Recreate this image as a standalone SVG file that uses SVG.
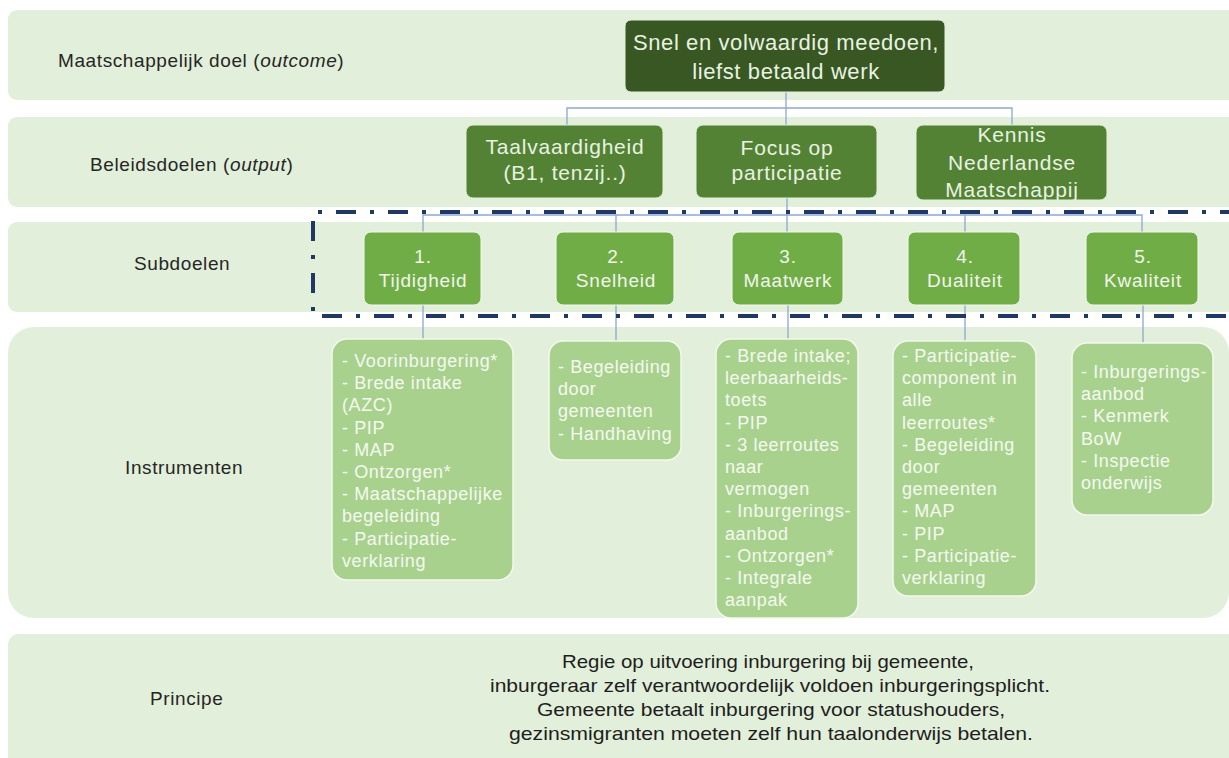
<svg xmlns="http://www.w3.org/2000/svg" width="1229" height="758" viewBox="0 0 1229 758">
<style>
.band{fill:#E2EFDA}
.lbl{font-family:"Liberation Sans",Arial,sans-serif;font-size:19px;letter-spacing:0.6px;fill:#262626}
.top{fill:#385723;stroke:#E2EFDA;stroke-width:1}
.l2{fill:#548235;stroke:#E2EFDA;stroke-width:1}
.sub{fill:#70AD47;stroke:#F2F8EE;stroke-width:1}
.ins{fill:#A9D18E;stroke:#F2F8EE;stroke-width:1.5}
.t1{font-family:"Liberation Sans",Arial,sans-serif;font-size:22px;letter-spacing:0.6px;fill:#E8F2E1;text-anchor:middle}
.t2{font-family:"Liberation Sans",Arial,sans-serif;font-size:21px;letter-spacing:0.8px;fill:#E8F2E1;text-anchor:middle}
.t3{font-family:"Liberation Sans",Arial,sans-serif;font-size:19px;letter-spacing:0.8px;fill:#F0F6EB;text-anchor:middle}
.t4{font-family:"Liberation Sans",Arial,sans-serif;font-size:18px;letter-spacing:0.6px;fill:#F4F9F0}
.pr{font-family:"Liberation Sans",Arial,sans-serif;font-size:19px;fill:#1E1E1E;text-anchor:middle}
.con{fill:none;stroke:#8EA6D6;stroke-width:1.3}
</style>

<g id="bands">
<rect class="band" x="8" y="10" width="1240" height="90" rx="9"/>
<rect class="band" x="8" y="117" width="1240" height="90" rx="9"/>
<rect class="band" x="8" y="222" width="1240" height="90" rx="9"/>
<rect class="band" x="8" y="327" width="1221" height="291" rx="26"/>
<rect class="band" x="8" y="634" width="1240" height="140" rx="11"/>
</g>

<g id="row-labels">
<text class="lbl" x="58" y="67">Maatschappelijk doel (<tspan font-style="italic">outcome</tspan>)</text>
<text class="lbl" x="90" y="171">Beleidsdoelen (<tspan font-style="italic">output</tspan>)</text>
<text class="lbl" x="134" y="270">Subdoelen</text>
<text class="lbl" x="125" y="474">Instrumenten</text>
<text class="lbl" x="150" y="705">Principe</text>
</g>

<g id="connectors">
<path class="con" d="M786,92 V125 M567,125 V108 H1012 V125"/>
<path class="con" d="M787,198 V232 M423,232 V215 H1142 V232 M616,215 V232 M965,215 V232"/>
<path class="con" d="M423,305 V339 M616,305 V341 M788,305 V339 M965,305 V341 M1143,305 V343"/>
</g>

<g id="goal">
<rect class="top" x="625" y="20" width="320" height="72" rx="6"/>
<text class="t1" x="786" y="50">Snel en volwaardig meedoen,</text>
<text class="t1" x="786" y="79">liefst betaald werk</text>
</g>

<g id="taalvaardigheid">
<rect class="l2" x="466" y="125" width="197" height="73" rx="7"/>
<text class="t2" x="565" y="154">Taalvaardigheid</text>
<text class="t2" x="565" y="180">(B1, tenzij..)</text>
</g>
<g id="participatie">
<rect class="l2" x="696" y="125" width="181" height="73" rx="7"/>
<text class="t2" x="787" y="155">Focus op</text>
<text class="t2" x="787" y="180">participatie</text>
</g>
<g id="kennis">
<rect class="l2" x="916" y="125" width="191" height="75" rx="7"/>
<text class="t2" x="1012" y="142">Kennis</text>
<text class="t2" x="1012" y="170">Nederlandse</text>
<text class="t2" x="1012" y="197">Maatschappij</text>
</g>

<g id="sub1">
<rect class="sub" x="364" y="232" width="117" height="73" rx="7"/>
<text class="t3" x="423" y="263">1.</text>
<text class="t3" x="423" y="287">Tijdigheid</text>
</g>
<g id="sub2">
<rect class="sub" x="556" y="232" width="118" height="73" rx="7"/>
<text class="t3" x="616" y="263">2.</text>
<text class="t3" x="616" y="287">Snelheid</text>
</g>
<g id="sub3">
<rect class="sub" x="732" y="232" width="111" height="73" rx="7"/>
<text class="t3" x="788" y="263">3.</text>
<text class="t3" x="788" y="287">Maatwerk</text>
</g>
<g id="sub4">
<rect class="sub" x="908" y="232" width="112" height="73" rx="7"/>
<text class="t3" x="965" y="263">4.</text>
<text class="t3" x="965" y="287">Dualiteit</text>
</g>
<g id="sub5">
<rect class="sub" x="1086" y="232" width="112" height="73" rx="7"/>
<text class="t3" x="1143" y="263">5.</text>
<text class="t3" x="1143" y="287">Kwaliteit</text>
</g>

<g id="subgoal-frame">
<path d="M1240,212 H313 V316 H1240" fill="none" stroke="#203864" stroke-width="4" stroke-dasharray="20 14 4 14" stroke-linejoin="round"/>
</g>

<g id="ins1">
<rect class="ins" x="332" y="339" width="181" height="241" rx="15"/>
<text class="t4">
<tspan x="342" y="367">- Voorinburgering*</tspan>
<tspan x="342" y="389.2">- Brede intake</tspan>
<tspan x="342" y="411.4">(AZC)</tspan>
<tspan x="342" y="433.6">- PIP</tspan>
<tspan x="342" y="455.8">- MAP</tspan>
<tspan x="342" y="478">- Ontzorgen*</tspan>
<tspan x="342" y="500.2">- Maatschappelijke</tspan>
<tspan x="342" y="522.4">begeleiding</tspan>
<tspan x="342" y="544.6">- Participatie-</tspan>
<tspan x="342" y="566.8">verklaring</tspan>
</text>
</g>
<g id="ins2">
<rect class="ins" x="549" y="341" width="132" height="119" rx="14"/>
<text class="t4">
<tspan x="558" y="373">- Begeleiding</tspan>
<tspan x="558" y="395.2">door</tspan>
<tspan x="558" y="417.4">gemeenten</tspan>
<tspan x="558" y="439.6">- Handhaving</tspan>
</text>
</g>
<g id="ins3">
<rect class="ins" x="716" y="339" width="142" height="279" rx="15"/>
<text class="t4">
<tspan x="725" y="362">- Brede intake;</tspan>
<tspan x="725" y="384.2">leerbaarheids-</tspan>
<tspan x="725" y="406.4">toets</tspan>
<tspan x="725" y="428.6">- PIP</tspan>
<tspan x="725" y="450.8">- 3 leerroutes</tspan>
<tspan x="725" y="473">naar</tspan>
<tspan x="725" y="495.2">vermogen</tspan>
<tspan x="725" y="517.4">- Inburgerings-</tspan>
<tspan x="725" y="539.6">aanbod</tspan>
<tspan x="725" y="561.8">- Ontzorgen*</tspan>
<tspan x="725" y="584">- Integrale</tspan>
<tspan x="725" y="606.2">aanpak</tspan>
</text>
</g>
<g id="ins4">
<rect class="ins" x="893" y="341" width="143" height="255" rx="15"/>
<text class="t4">
<tspan x="902" y="362">- Participatie-</tspan>
<tspan x="902" y="384.2">component in</tspan>
<tspan x="902" y="406.4">alle</tspan>
<tspan x="902" y="428.6">leerroutes*</tspan>
<tspan x="902" y="450.8">- Begeleiding</tspan>
<tspan x="902" y="473">door</tspan>
<tspan x="902" y="495.2">gemeenten</tspan>
<tspan x="902" y="517.4">- MAP</tspan>
<tspan x="902" y="539.6">- PIP</tspan>
<tspan x="902" y="561.8">- Participatie-</tspan>
<tspan x="902" y="584">verklaring</tspan>
</text>
</g>
<g id="ins5">
<rect class="ins" x="1072" y="343" width="141" height="172" rx="15"/>
<text class="t4">
<tspan x="1081" y="378">- Inburgerings-</tspan>
<tspan x="1081" y="400.2">aanbod</tspan>
<tspan x="1081" y="422.4">- Kenmerk</tspan>
<tspan x="1081" y="444.6">BoW</tspan>
<tspan x="1081" y="466.8">- Inspectie</tspan>
<tspan x="1081" y="489">onderwijs</tspan>
</text>
</g>

<g id="principe">
<text class="pr" x="768" y="668" textLength="412" lengthAdjust="spacingAndGlyphs">Regie op uitvoering inburgering bij gemeente,</text>
<text class="pr" x="770" y="692" textLength="560" lengthAdjust="spacingAndGlyphs">inburgeraar zelf verantwoordelijk voldoen inburgeringsplicht.</text>
<text class="pr" x="771" y="716" textLength="468" lengthAdjust="spacingAndGlyphs">Gemeente betaalt inburgering voor statushouders,</text>
<text class="pr" x="771" y="740" textLength="524" lengthAdjust="spacingAndGlyphs">gezinsmigranten moeten zelf hun taalonderwijs betalen.</text>
</g>
</svg>
